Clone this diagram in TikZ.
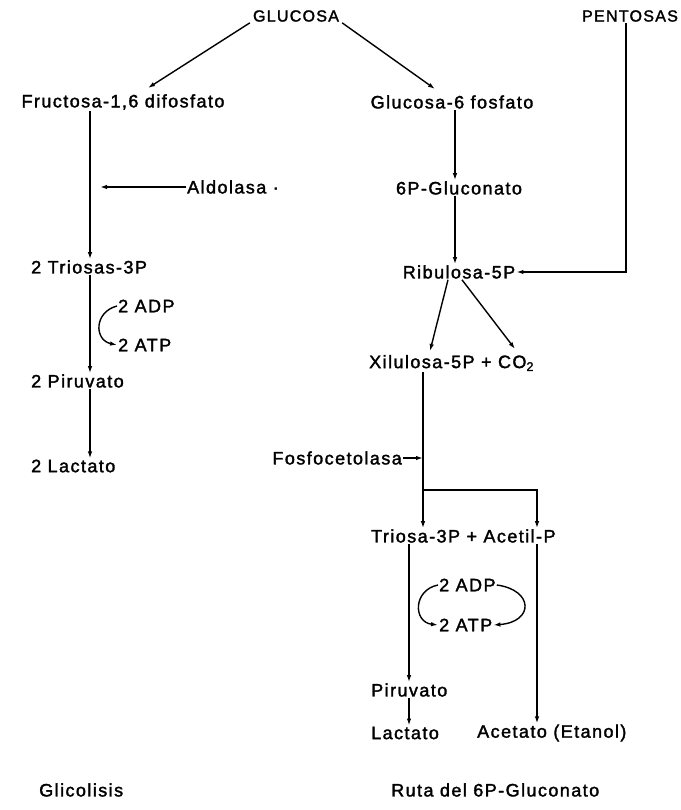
\documentclass[tikz,border=0pt]{standalone}
\usepackage{fontspec}
\setmainfont[LetterSpace=8,FakeBold=1.8]{Liberation Sans}
\usetikzlibrary{arrows.meta}
\begin{document}
\begin{tikzpicture}[x=1pt,y=-1pt,
  lbl/.style={inner sep=1pt,font=\fontsize{18}{21}\selectfont},
  capslbl/.style={inner sep=1pt,font=\fontsize{16}{19}\selectfont},
  arr/.style={line width=1.4pt,-{Latex[length=7pt,width=4.5pt]}}]
\useasboundingbox (0,0) rectangle (680,810);
% nodes
\node[capslbl] (glu) at (296,16) {GLUCOSA};
\node[capslbl] (pen) at (630,16) {PENTOSAS};
\node[lbl] (fru) at (123,102) {Fructosa-1,6 difosfato};
\node[lbl] (g6p) at (452,102) {Glucosa-6 fosfato};
\node[lbl,anchor=west] (ald) at (186,187) {Aldolasa ·};
\node[lbl,anchor=west] (tri) at (30,267) {2 Triosas-3P};
\node[lbl,anchor=west] (adp1) at (117,306) {2 ADP};
\node[lbl,anchor=west] (atp1) at (117,345) {2 ATP};
\node[lbl,anchor=west] (pir1) at (30,381) {2 Piruvato};
\node[lbl,anchor=west] (lac1) at (30,466) {2 Lactato};
\node[lbl] (gluc6) at (459,188) {6P-Gluconato};
\node[lbl] (rib) at (459,272) {Ribulosa-5P};
\node[lbl,anchor=west] (xil) at (368,363) {Xilulosa-5P + CO\textsubscript{2}};
\node[lbl,anchor=east] (fos) at (403,458) {Fosfocetolasa};
\node[lbl,anchor=west] (tap) at (370,536) {Triosa-3P + Acetil-P};
\node[lbl,anchor=west] (adp2) at (438,585) {2 ADP};
\node[lbl,anchor=west] (atp2) at (438,625) {2 ATP};
\node[lbl,anchor=west] (pir2) at (370,690) {Piruvato};
\node[lbl,anchor=west] (lac2) at (370,733) {Lactato};
\node[lbl,anchor=west] (ace) at (476,733) {Acetato (Etanol)};
\node[lbl,anchor=west] (gli) at (38,790) {Glicolisis};
\node[lbl,anchor=west] (ruta) at (390,790) {Ruta del 6P-Gluconato};
% guide coordinates
\coordinate (L) at (90,0);
\coordinate (R) at (455,0);
\coordinate (P) at (626,0);
\coordinate (X) at (423,0);
\coordinate (A) at (537,0);
\coordinate (T) at (409,0);
\coordinate (aldend) at (100,187);
\coordinate (fruend) at (148,88);
\coordinate (g6pend) at (435,89);
\coordinate (xa) at (430,351);
\coordinate (xb) at (515,349);
\coordinate (br) at (423,490);
% connectors
\draw[arr] ([xshift=-2pt]glu.south west) -- (fruend);
\draw[arr] ([xshift=2pt]glu.south east) -- (g6pend);
\draw[arr] (fru.south -| L) -- (tri.north -| L);
\draw[arr] (ald.west) -- (aldend);
\draw[arr] (tri.south -| L) -- (pir1.north -| L);
\draw[arr] (pir1.south -| L) -- (lac1.north -| L);
\draw[arr] (adp1.west) .. controls (94,312) and (94,340) .. (atp1.west);
\draw[arr] (g6p.south -| R) -- (gluc6.north -| R);
\draw[arr] (gluc6.south -| R) -- (rib.north -| R);
\draw[arr] (pen.south -| P) -- (P |- rib) -- (rib.east);
\draw[arr] ([xshift=-11pt]rib.south) -- (xa);
\draw[arr] ([xshift=3pt]rib.south) -- (xb);
\draw[arr] (xil.south -| X) -- (tap.north -| X);
\draw[arr] (br) -- (A |- br) -- (tap.north -| A);
\draw[arr] (fos.east) -- (fos.east -| X);
\draw[arr] (tap.south -| T) -- (pir2.north -| T);
\draw[arr] (pir2.south -| T) -- (lac2.north -| T);
\draw[arr] (tap.south -| A) -- (ace.north -| A);
\draw[arr] (adp2.west) .. controls (413,590) and (413,622) .. (atp2.west);
\draw[arr] (adp2.east) .. controls (534,590) and (534,622) .. (atp2.east);
\end{tikzpicture}
\end{document}
